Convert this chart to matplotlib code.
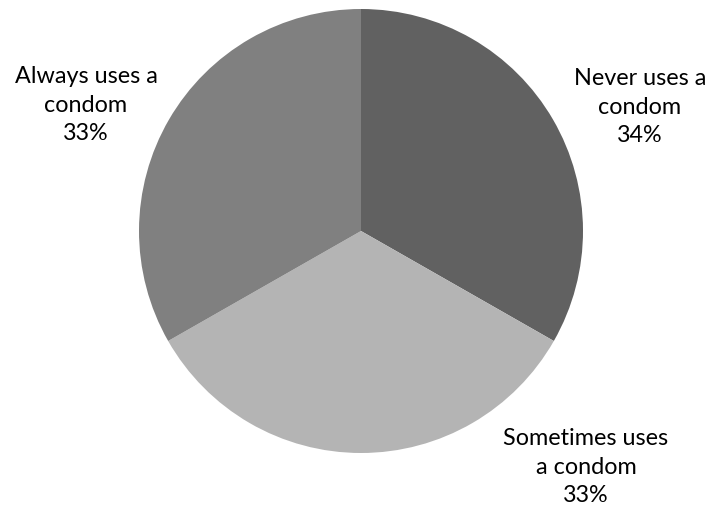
import matplotlib
matplotlib.use("Agg")
import matplotlib.pyplot as plt

labels = ["Never uses a\ncondom\n34%", "Sometimes uses\na condom\n33%", "Always uses a\ncondom\n33%"]
values = [33.25, 33.5, 33.25]
colors = ["#616161", "#b4b4b4", "#808080"]

W, H = 713, 512
fig = plt.figure(figsize=(W / 100, H / 100), dpi=100)
ax = fig.add_axes([0, 0, 1, 1])

ax.pie(values, colors=colors, startangle=90, counterclock=False,
       center=(361, H - 231), radius=222, frame=True,
       wedgeprops=dict(linewidth=0))
ax.set_xlim(0, W)
ax.set_ylim(0, H)
ax.set_aspect("equal")
ax.axis("off")

# label anchors (pixel coords, from top)
label_pos = [(640, 107), (586, 467), (86, 105)]
for txt, (x, y) in zip(labels, label_pos):
    ax.text(x, H - y, txt, ha="center", va="center", fontsize=16.8,
            family="Lato", linespacing=1.45, color="#000000")

fig.savefig("out.png", dpi=100)
